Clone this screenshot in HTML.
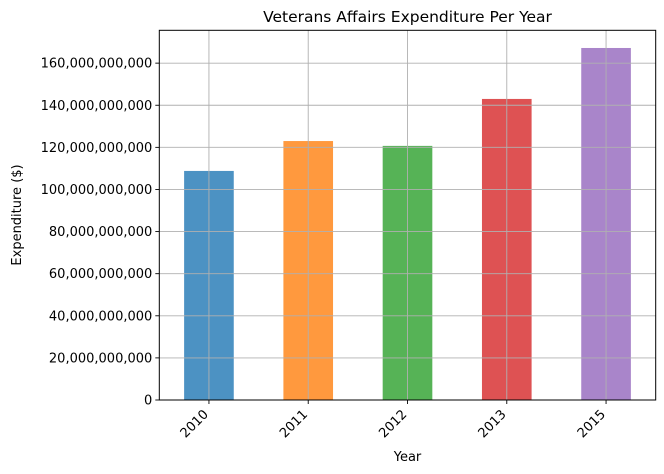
<!DOCTYPE html>
<html><head><meta charset="utf-8"><style>
html,body{margin:0;padding:0;background:#fff;}
svg{display:block;font-family:"DejaVu Sans","Liberation Sans",sans-serif;}
</style></head><body>
<svg id="chart" width="664" height="474" viewBox="0 0 664 474" xmlns="http://www.w3.org/2000/svg">
<text x="407.5" y="22" font-size="15.5" text-anchor="middle" fill="#000">Veterans Affairs Expenditure Per Year</text>
<g id="bars"></g>
<g id="grid"></g>
<g id="yticks"></g>
<g id="xticks"></g>
<rect x="159.3" y="30.3" width="496.4" height="369.7" fill="none" stroke="#000" stroke-width="1"/>
<text transform="translate(21,215) rotate(-90)" font-size="13" text-anchor="middle">Expenditure ($)</text>
<text x="407.5" y="461" font-size="13" text-anchor="middle">Year</text>
</svg>
<script>
const categories = ["2010","2011","2012","2013","2015"];
const values = [108.8e9, 123.0e9, 120.7e9, 143.0e9, 167.2e9];
const yTicks = [0,20e9,40e9,60e9,80e9,100e9,120e9,140e9,160e9];
const colors = ["#1f77b4","#ff7f0e","#2ca02c","#d62728","#9467bd"];

const L=159.3,R=655.7,T=30.3,B=400, yMax=175.6e9;
const NS="http://www.w3.org/2000/svg";
function x(i){return L+(i+0.5)*(R-L)/categories.length;}
function y(v){return B-(v/yMax)*(B-T);}
const bw=0.5*(R-L)/categories.length;
function mk(tag,attrs,parent){const e=document.createElementNS(NS,tag);for(const k in attrs)e.setAttribute(k,attrs[k]);parent.appendChild(e);return e;}
const bars=document.getElementById('bars'),grid=document.getElementById('grid'),yt=document.getElementById('yticks'),xt=document.getElementById('xticks');
values.forEach((v,i)=>{
  const r=mk('rect',{x:x(i)-bw/2,y:y(v),width:bw,height:B-y(v),fill:colors[i],'fill-opacity':0.8},bars);
  
  
});
yTicks.forEach(t=>{
  const g=mk('line',{x1:L,x2:R,y1:y(t),y2:y(t),stroke:'#b0b0b0','stroke-width':0.9},grid);
  
  
  const tk=mk('line',{x1:L-4,x2:L,y1:y(t),y2:y(t),stroke:'#000','stroke-width':0.9},yt);
  
  
  const lb=mk('text',{x:L-7,y:y(t)+4.5,'font-size':13,'text-anchor':'end'},yt);
  lb.textContent=t.toLocaleString('en-US');
  
  
});
categories.forEach((c,i)=>{
  const g=mk('line',{x1:x(i),x2:x(i),y1:T,y2:B,stroke:'#b0b0b0','stroke-width':0.9},grid);
  
  
  const tk=mk('line',{x1:x(i),x2:x(i),y1:B,y2:B+4,stroke:'#000','stroke-width':0.9},xt);
  
  
  const lb=mk('text',{transform:`translate(${x(i)+0},${B+15}) rotate(-45)`,'font-size':13,'text-anchor':'end'},xt);
  lb.textContent=c;
  
  
});
</script>
</body></html>
